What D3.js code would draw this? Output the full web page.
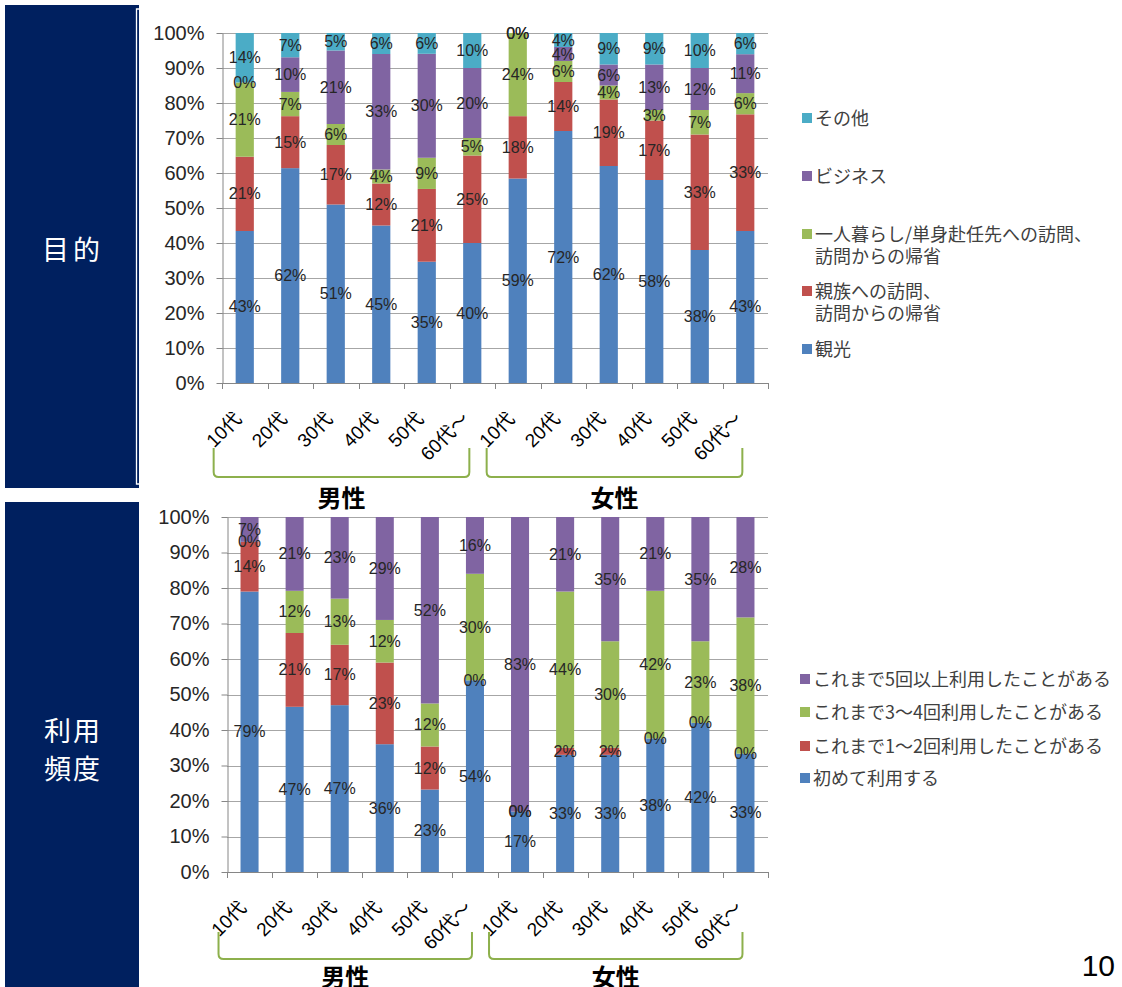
<!DOCTYPE html>
<html><head><meta charset="utf-8">
<script src="https://cdn.jsdelivr.net/npm/d3@7"></script>
<style>body{margin:0;background:#fff}</style>
</head><body><svg id="c" width="1122" height="987"></svg>
<script>
// ---------- data ----------
const ages = ["10代","20代","30代","40代","50代","60代～"];
const genders = ["男性","女性"];
const categories = genders.flatMap(g => ages.map(a => g + "|" + a));

// 目的 (purpose), bottom to top
const purposeNames = ["観光","親族への訪問、\n訪問からの帰省","一人暮らし/単身赴任先への訪問、\n訪問からの帰省","ビジネス","その他"];
const purposeKanko    = [43,62,51,45,35,40, 59,72,62,58,38,43];
const purposeShinzoku = [21,15,17,12,21,25, 18,14,19,17,33,33];
const purposeHitori   = [21, 7, 6, 4, 9, 5, 24, 6, 4, 3, 7, 6];
const purposeBiz      = [ 0,10,21,33,30,20,  0, 4, 6,13,12,11];
const purposeOther    = [14, 7, 5, 6, 6,10,  0, 4, 9, 9,10, 6];
const purposeColors = ["#4F81BD","#C0504D","#9BBB59","#8064A2","#4BACC6"];

// 利用頻度 (frequency), bottom to top
const freqNames = ["初めて利用する","これまで1～2回利用したことがある","これまで3～4回利用したことがある","これまで5回以上利用したことがある"];
const freqFirst = [79,47,47,36,23,54, 17,33,33,38,42,33];
const freq12    = [14,21,17,23,12, 0,  0, 2, 2, 0, 0, 0];
const freq34    = [ 0,12,13,12,12,30,  0,44,30,42,23,38];
const freq5     = [ 7,21,23,29,52,16, 83,21,35,21,35,28];
const freqColors = ["#4F81BD","#C0504D","#9BBB59","#8064A2"];

const yTicks = [0,0.1,0.2,0.3,0.4,0.5,0.6,0.7,0.8,0.9,1.0];

// ---------- drawing ----------
const svg = d3.select("#c");
svg.append("rect").attr("width",1122).attr("height",987).attr("fill","#fff");

// left navy panels
const navy = "#00205F";
svg.append("rect").attr("x",5).attr("y",5).attr("width",134).attr("height",483).attr("fill",navy);
svg.append("path").attr("d","M139,9 H136.5 V484 H139").attr("fill","none").attr("stroke","#fff").attr("stroke-width",1.3);
svg.append("rect").attr("x",5).attr("y",502).attr("width",134).attr("height",485).attr("fill",navy);
const panelFont = "'Noto Sans CJK JP', sans-serif";
svg.append("text").attr("x",73).attr("y",248).attr("text-anchor","middle").attr("dominant-baseline","central")
  .attr("fill","#fff").attr("font-family",panelFont).attr("font-size",27).attr("letter-spacing",4).text("目的");
svg.append("text").attr("x",73).attr("y",729).attr("text-anchor","middle").attr("dominant-baseline","central")
  .attr("fill","#fff").attr("font-family",panelFont).attr("font-size",27).attr("letter-spacing",2).text("利用");
svg.append("text").attr("x",73).attr("y",767).attr("text-anchor","middle").attr("dominant-baseline","central")
  .attr("fill","#fff").attr("font-family",panelFont).attr("font-size",27).attr("letter-spacing",2).text("頻度");

// page number
svg.append("text").attr("x",1115).attr("y",976).attr("text-anchor","end")
  .attr("font-family","'Liberation Sans', Arial, sans-serif").attr("font-size",30).attr("fill","#000").text("10");

function drawChart(cfg){
  const g = svg.append("g");
  const x = d3.scaleBand().domain(categories).range([cfg.x0,cfg.x1]).paddingInner(0.6).paddingOuter(0.3);
  const y = d3.scaleLinear().domain([0,1]).range([cfg.yBot,cfg.yTop]);
  const keys = cfg.names.map((n,i)=>"s"+i);
  const rows = categories.map((c,i)=>{
    const r = {cat:c};
    cfg.values.forEach((arr,k)=> r["s"+k] = arr[i]);
    return r;
  });
  const stacked = d3.stack().keys(keys).offset(d3.stackOffsetExpand)(rows);

  // gridlines
  g.append("g").selectAll("line").data(yTicks).join("line")
    .attr("x1",cfg.x0).attr("x2",cfg.x1).attr("y1",d=>Math.round(y(d))+0.5).attr("y2",d=>Math.round(y(d))+0.5)
    .attr("stroke","#A6A6A6").attr("stroke-width",1);

  // y axis
  const ya = g.append("g").attr("transform",`translate(${cfg.x0+0.5},0)`)
    .call(d3.axisLeft(y).tickValues(yTicks).tickFormat(d3.format(".0%")).tickSizeInner(6).tickSizeOuter(0).tickPadding(12));
  ya.selectAll("path,line").attr("stroke","#868686");
  ya.selectAll("text").attr("font-family","'Liberation Sans', Arial, sans-serif").attr("font-size",20).attr("fill","#262626");

  // bars
  stacked.forEach((layer,k)=>{
    g.append("g").selectAll("rect").data(layer).join("rect")
      .attr("x",d=>x(d.data.cat)).attr("width",x.bandwidth())
      .attr("y",d=>y(d[1])).attr("height",d=>y(d[0])-y(d[1]))
      .attr("fill",cfg.colors[k]);
  });

  // x axis line + ticks
  const xa = g.append("g");
  xa.append("line").attr("x1",cfg.x0).attr("x2",cfg.x1).attr("y1",cfg.yBot+0.5).attr("y2",cfg.yBot+0.5).attr("stroke","#868686");
  const step = x.step();
  const bounds = d3.range(categories.length+1).map(i=>cfg.x0 + i*step);
  xa.selectAll("line.t").data(bounds).join("line").attr("class","t")
    .attr("x1",d=>Math.round(d)+0.5).attr("x2",d=>Math.round(d)+0.5).attr("y1",cfg.yBot).attr("y2",cfg.yBot+6).attr("stroke","#868686");

  // data labels
  stacked.forEach((layer,k)=>{
    g.append("g").selectAll("text").data(layer).join("text")
      .attr("x",d=>x(d.data.cat)+x.bandwidth()/2)
      .attr("y",d=>y((d[0]+d[1])/2))
      .attr("text-anchor","middle").attr("dominant-baseline","central")
      .attr("font-family","'Liberation Sans', Arial, sans-serif").attr("font-size",16).attr("fill","#262626")
      .text(d=>d.data["s"+k]+"%");
  });

  // category labels rotated
  g.append("g").selectAll("text").data(categories).join("text")
    .attr("transform",d=>`translate(${x(d)+x.bandwidth()/2-2},${cfg.yBot+37}) rotate(-45)`)
    .attr("text-anchor","end")
    .attr("font-family","'Liberation Sans', 'Noto Sans CJK JP', sans-serif").attr("font-size",19).attr("fill","#000")
    .text(d=>d.split("|")[1]);

  // brackets + gender labels
  genders.forEach((gn,gi)=>{
    const first = x(gn+"|"+ages[0]), last = x(gn+"|"+ages[ages.length-1])+x.bandwidth();
    const bl = first - 22, br = last - 12;
    const t = cfg.bTop, b = cfg.bBot, r = 5;
    g.append("path").attr("d",`M${bl},${t} V${b-r} Q${bl},${b} ${bl+r},${b} H${br-r} Q${br},${b} ${br},${b-r} V${t}`)
      .attr("fill","none").attr("stroke","#8DB04C").attr("stroke-width",2);
    g.append("text").attr("x",(bl+br)/2).attr("y",cfg.gLabelY).attr("text-anchor","middle").attr("dominant-baseline","central")
      .attr("font-family","'Noto Sans CJK JP', sans-serif").attr("font-size",24).attr("font-weight","bold").attr("fill","#000").text(gn);
  });

  // legend
  const lg = g.append("g");
  cfg.legend.forEach(item=>{
    const k = item.k;
    lg.append("rect").attr("x",cfg.legX).attr("y",item.y-5+1).attr("width",10).attr("height",10).attr("fill",cfg.colors[k]);
    const lines = cfg.names[k].split("\n");
    lines.forEach((ln,li)=>{
      lg.append("text").attr("x",cfg.legX+13).attr("y",item.y + li*22).attr("dominant-baseline","central")
        .attr("font-family","'Noto Sans CJK JP', sans-serif").attr("font-size",18).attr("fill","#404040").text(ln);
    });
  });
}

drawChart({
  names: purposeNames,
  values: [purposeKanko,purposeShinzoku,purposeHitori,purposeBiz,purposeOther],
  colors: purposeColors,
  x0: 222, x1: 768, yTop: 33, yBot: 383,
  bTop: 448, bBot: 477, gLabelY: 496,
  legX: 802,
  legend: [{k:4,y:117},{k:3,y:175},{k:2,y:233},{k:1,y:290},{k:0,y:348}]
});

drawChart({
  names: freqNames,
  values: [freqFirst,freq12,freq34,freq5],
  colors: freqColors,
  x0: 227, x1: 768, yTop: 517, yBot: 872,
  bTop: 932, bBot: 959, gLabelY: 975,
  legX: 800,
  legend: [{k:3,y:678},{k:2,y:711},{k:1,y:745},{k:0,y:777}]
});
</script>
</body></html>
